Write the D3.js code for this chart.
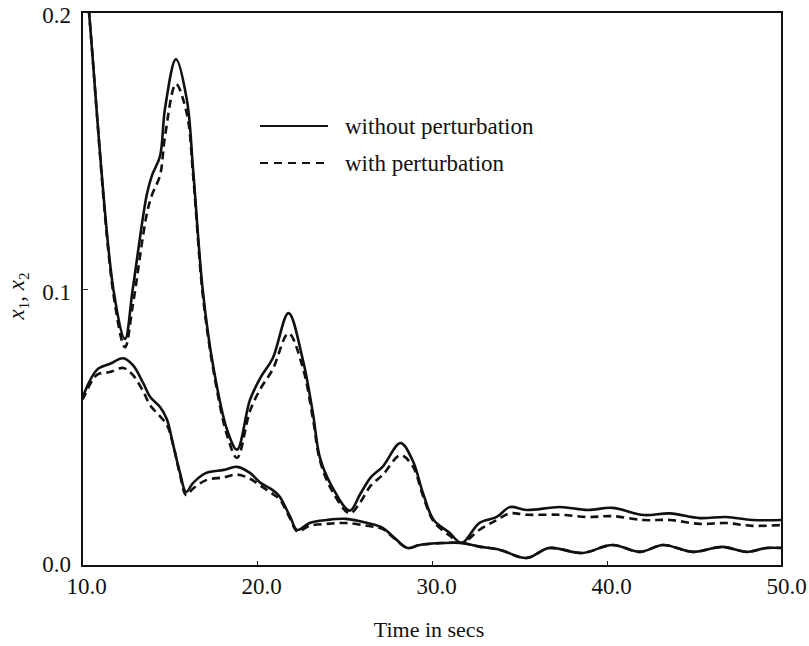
<!DOCTYPE html>
<html>
<head>
<meta charset="utf-8">
<script src="https://cdn.jsdelivr.net/npm/d3@7"></script>
<style>
  body { margin: 0; background: #fff; }
  text { font-family: "Liberation Serif", "Times New Roman", serif; fill: #111; }
</style>
</head>
<body>
<div id="chart"></div>
<script>
'use strict';

// x1 (upper curve) without / with perturbation
const x1Time = [10.0, 10.4, 11.8, 12.46, 12.9, 13.7, 14.0, 14.46, 14.74, 15.37, 16.0, 16.35, 16.9, 17.5, 18.3, 18.86, 19.6, 20.2, 20.9, 21.8, 22.6, 23.2, 23.6, 24.3, 25.3, 25.9, 26.5, 27.2, 28.2, 28.9, 29.5, 30.1, 31.0, 31.7, 32.7, 33.7, 34.46, 35.4, 37.3, 38.9, 40.3, 42.1, 43.6, 45.3, 46.8, 48.3, 50.0];
const x1Plain = [0.229, 0.200, 0.0996, 0.082, 0.100, 0.134, 0.141, 0.148, 0.165, 0.183, 0.168, 0.143, 0.0996, 0.072, 0.049, 0.042, 0.060, 0.068, 0.075, 0.0913, 0.075, 0.055, 0.039, 0.0285, 0.020, 0.026, 0.032, 0.036, 0.0444, 0.038, 0.026, 0.0166, 0.012, 0.0083, 0.0155, 0.0177, 0.0213, 0.0202, 0.0213, 0.0202, 0.021, 0.0184, 0.019, 0.0173, 0.0177, 0.0166, 0.0166];
const x1Pert = [0.229, 0.200, 0.098, 0.079, 0.094, 0.127, 0.134, 0.141, 0.155, 0.174, 0.163, 0.141, 0.098, 0.071, 0.047, 0.039, 0.056, 0.064, 0.071, 0.084, 0.072, 0.053, 0.038, 0.027, 0.019, 0.023, 0.029, 0.033, 0.040, 0.036, 0.025, 0.016, 0.011, 0.0083, 0.013, 0.0166, 0.019, 0.0185, 0.0185, 0.0177, 0.018, 0.0166, 0.0166, 0.0152, 0.0155, 0.0145, 0.0148];

// x2 (lower curve) without / with perturbation
const x2Time = [10.0, 10.1, 10.85, 11.6, 12.35, 12.9, 13.5, 13.9, 14.46, 14.85, 15.2, 15.6, 15.95, 16.35, 17.1, 18.1, 18.86, 19.6, 20.2, 20.9, 21.3, 21.9, 22.3, 23.0, 24.0, 25.1, 26.3, 27.2, 27.8, 28.6, 29.3, 30.6, 31.7, 32.7, 33.9, 35.4, 36.7, 38.6, 40.3, 41.9, 43.2, 44.9, 46.6, 48.0, 49.1, 50.0];
const x2Plain = [0.060, 0.062, 0.0708, 0.073, 0.075, 0.0726, 0.066, 0.061, 0.0574, 0.053, 0.044, 0.0336, 0.0267, 0.030, 0.0336, 0.0347, 0.0358, 0.0336, 0.030, 0.0274, 0.025, 0.0177, 0.013, 0.0155, 0.0166, 0.017, 0.0155, 0.0137, 0.0105, 0.0065, 0.0076, 0.0083, 0.0083, 0.007, 0.0058, 0.0029, 0.0065, 0.0047, 0.0076, 0.0051, 0.0076, 0.0051, 0.0069, 0.0051, 0.0065, 0.0065];
const x2Pert = [0.060, 0.061, 0.069, 0.070, 0.0715, 0.069, 0.063, 0.058, 0.054, 0.051, 0.044, 0.033, 0.0256, 0.028, 0.031, 0.032, 0.033, 0.0315, 0.029, 0.026, 0.024, 0.017, 0.0125, 0.0145, 0.0152, 0.0155, 0.0145, 0.0133, 0.0102, 0.0065, 0.0076, 0.0083, 0.0083, 0.007, 0.0058, 0.0029, 0.0065, 0.0047, 0.0076, 0.0051, 0.0076, 0.0051, 0.0069, 0.0051, 0.0065, 0.0065];

const xTicks = [10, 20, 30, 40, 50];
const yTicks = [0, 0.1, 0.2];
const legendLabels = ['without perturbation', 'with perturbation'];

const W = 809, H = 646;
const margin = { top: 12, right: 27, bottom: 80, left: 82 };
const width = W - margin.left - margin.right;
const height = H - margin.top - margin.bottom;

const svg = d3.select('#chart').append('svg')
    .attr('width', W)
    .attr('height', H)
  .append('g')
    .attr('transform', `translate(${margin.left}, ${margin.top})`);

const x = d3.scaleLinear().domain([10, 50]).range([0, width]);
const y = d3.scaleLinear().domain([0, 0.2]).range([height, 0]);

svg.append('clipPath')
    .attr('id', 'plot-clip')
  .append('rect')
    .attr('width', width)
    .attr('height', height);

const xAxis = d3.axisBottom(x)
    .tickValues(xTicks)
    .tickSizeInner(-5)
    .tickSizeOuter(0)
    .tickPadding(12)
    .tickFormat(d3.format('.1f'));

const yAxis = d3.axisLeft(y)
    .tickValues(yTicks)
    .tickSizeInner(-6)
    .tickSizeOuter(0)
    .tickPadding(11)
    .tickFormat(d3.format('.1f'));

const gx = svg.append('g')
    .attr('transform', `translate(0, ${height})`)
    .call(xAxis);
gx.select('.domain').remove();
gx.selectAll('text')
    .attr('font-family', '"Liberation Serif", serif')
    .attr('font-size', 23)
    .attr('fill', '#111')
    .attr('dx', 4);
gx.selectAll('line').attr('stroke', '#222').attr('stroke-width', 1);

const gy = svg.append('g').call(yAxis);
gy.select('.domain').remove();
gy.selectAll('text')
    .attr('font-family', '"Liberation Serif", serif')
    .attr('font-size', 23)
    .attr('fill', '#111')
    .attr('dy', '0.45em');
gy.selectAll('.tick').filter(d => d === 0).select('text').attr('dy', '0.26em');
gy.selectAll('line').attr('stroke', '#222').attr('stroke-width', 1);

// frame
svg.append('rect')
    .attr('width', width)
    .attr('height', height)
    .attr('fill', 'none')
    .attr('stroke', '#111')
    .attr('stroke-width', 2);

const line = d3.line()
    .x(d => x(d[0]))
    .y(d => y(d[1]))
    .curve(d3.curveCatmullRom.alpha(0.5));

const series = [
  { t: x1Time, v: x1Plain, dash: null },
  { t: x1Time, v: x1Pert, dash: '8,5' },
  { t: x2Time, v: x2Plain, dash: null },
  { t: x2Time, v: x2Pert, dash: '8,5' }
];

const plot = svg.append('g').attr('clip-path', 'url(#plot-clip)');

plot.selectAll('.curve')
    .data(series)
  .enter().append('path')
    .attr('class', 'curve')
    .attr('fill', 'none')
    .attr('stroke', '#111')
    .attr('stroke-width', 2.6)
    .attr('stroke-dasharray', d => d.dash)
    .attr('d', d => line(d.t.map((t, i) => [t, d.v[i]])));

// legend
const legend = svg.append('g')
    .attr('transform', `translate(${260 - margin.left}, ${126 - margin.top})`);

legendLabels.forEach((label, i) => {
  legend.append('line')
      .attr('x1', 0)
      .attr('x2', 68)
      .attr('y1', i * 37)
      .attr('y2', i * 37)
      .attr('stroke', '#111')
      .attr('stroke-width', 2)
      .attr('stroke-dasharray', i === 0 ? null : '8,6');
  legend.append('text')
      .attr('x', 85)
      .attr('y', i * 37)
      .attr('dy', '0.33em')
      .attr('font-size', 23)
      .text(label);
});

// axis titles
svg.append('text')
    .attr('x', 429 - margin.left)
    .attr('y', height + 71)
    .attr('text-anchor', 'middle')
    .attr('font-size', 22)
    .text('Time in secs');

const yTitle = svg.append('text')
    .attr('transform', `translate(${24 - margin.left}, ${296 - margin.top}) rotate(-90)`)
    .attr('text-anchor', 'middle')
    .attr('font-size', 23)
    .attr('font-style', 'italic');
yTitle.append('tspan').text('x');
yTitle.append('tspan').attr('font-size', 15).attr('font-style', 'normal').attr('dy', 5).text('1');
yTitle.append('tspan').attr('dy', -5).attr('font-style', 'normal').text(', ');
yTitle.append('tspan').text('x');
yTitle.append('tspan').attr('font-size', 15).attr('font-style', 'normal').attr('dy', 5).text('2');
</script>
</body>
</html>
